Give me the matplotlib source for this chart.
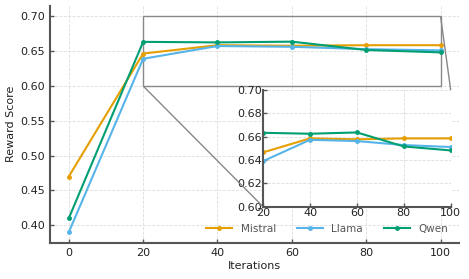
import matplotlib
matplotlib.use("Agg")
import matplotlib.pyplot as plt
from mpl_toolkits.axes_grid1.inset_locator import mark_inset

iterations = [0, 20, 40, 60, 80, 100]
mistral = [0.470, 0.6466, 0.6586, 0.6578, 0.6586, 0.6586]
llama = [0.390, 0.6391, 0.6574, 0.6563, 0.6529, 0.6512]
qwen = [0.410, 0.6634, 0.6626, 0.6637, 0.6517, 0.6483]
names = ["Mistral", "Llama", "Qwen"]
colors = ["#E69F00", "#56B4E9", "#009E73"]
series = [mistral, llama, qwen]

plt.rcParams['font.family'] = ['DejaVu Sans']
fig = plt.figure(figsize=(4.69, 2.79), dpi=100)
ax = fig.add_axes([0.107, 0.129, 0.872, 0.851])

def style(a):
    for s in ['top', 'right']:
        a.spines[s].set_visible(False)
    for s in ['left', 'bottom']:
        a.spines[s].set_color('#555555')
        a.spines[s].set_linewidth(1.5)
    a.tick_params(direction='in', length=3, width=1, color='#555555',
                  labelsize=8, labelcolor='#222222')
    a.grid(True, linestyle='--', color='#dddddd', linewidth=0.6)
    a.set_axisbelow(True)

lines = []
for n, c, s in zip(names, colors, series):
    l, = ax.plot(iterations, s, color=c, lw=1.5, marker='o', ms=2.5, label=n)
    lines.append(l)
style(ax)
ax.set_xlim(-5, 105)
ax.set_ylim(0.3745, 0.7155)
ax.set_xticks([0, 20, 40, 60, 80, 100])
ax.set_yticks([0.40, 0.45, 0.50, 0.55, 0.60, 0.65, 0.70])
ax.set_xlabel("Iterations", fontsize=8, color='#222222', labelpad=2)
ax.set_ylabel("Reward Score", fontsize=8, color='#222222', labelpad=3)

axins = fig.add_axes([0.561, 0.259, 0.400, 0.418])
for n, c, s in zip(names, colors, series):
    axins.plot(iterations, s, color=c, lw=1.5, marker='o', ms=2.5)
style(axins)
axins.set_xlim(20, 100)
axins.set_ylim(0.60, 0.70)
axins.set_xticks([20, 40, 60, 80, 100])
axins.set_yticks([0.60, 0.62, 0.64, 0.66, 0.68, 0.70])
axins.tick_params(pad=1)
axins.patch.set_facecolor('white')

mark_inset(ax, axins, loc1=1, loc2=3, fc='none', ec='#888888', lw=1)

leg = ax.legend(handles=lines, loc='lower right', ncol=3, frameon=False,
                fontsize=7.5, bbox_to_anchor=(0.995, 0.0), handlelength=2.5,
                columnspacing=2.0, labelcolor='#555555')

fig.savefig("out.png", dpi=100)
